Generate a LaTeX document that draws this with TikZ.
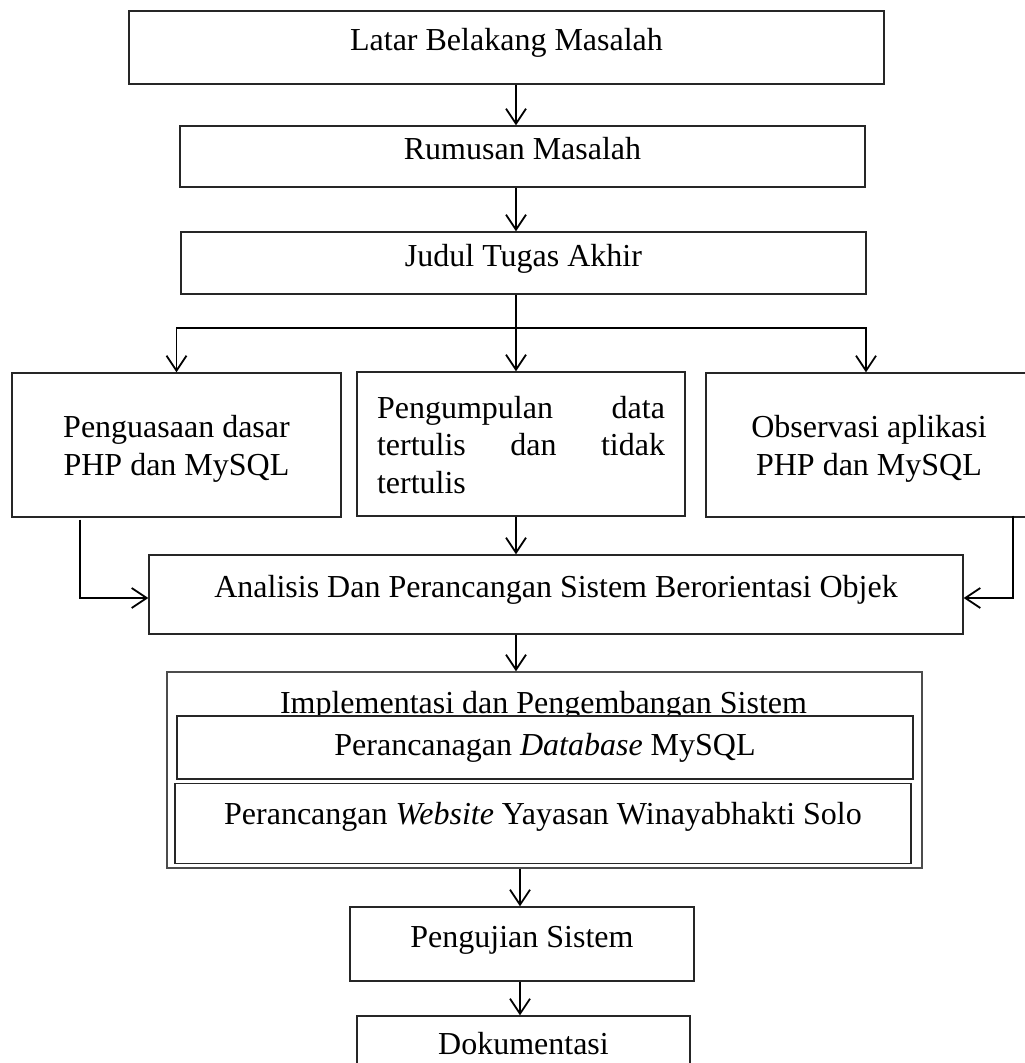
\documentclass[tikz,border=0pt]{standalone}
\usepackage{fontspec}
\setmainfont{Liberation Serif}
\usetikzlibrary{calc,arrows.meta}
\def\drawflow{\draw[line width=1.8pt,-{Straight Barb[length=15pt,width=20pt,line width=1.8pt]}]}
\def\stepnode{\node[draw=black!85,line width=1.3pt,fill=white,inner sep=0pt,align=center,font=\fontsize{32}{37.5}\selectfont]}
\tikzset{
  oneline/.style={text height=22pt,text depth=16pt},
  twolines/.style={text height=67.5pt,text depth=7pt}, % height counts both lines
  parlines/.style={text height=30pt,text depth=82pt} % with a text width the depth counts the lines below
}

\begin{document}
\begin{tikzpicture}[x=1pt,y=-1pt]
\useasboundingbox (0,0) rectangle (1025,1063);
\clip (0,0) rectangle (1025,1063);
\coordinate (spine) at (516,0); % the vertical axis of the upper arrows
\coordinate (lowspine) at (520,0); % the vertical axis of the lower arrows

% -------- top chain ---------
\stepnode[oneline,minimum width=755pt,minimum height=73pt] (latar) at (506.5,47.5) {Latar Belakang Masalah};
\stepnode[oneline,minimum width=685pt,minimum height=61pt] (rumusan) at (522.5,156.5) {Rumusan Masalah};
\stepnode[oneline,minimum width=685pt,minimum height=62pt] (judul) at (523.5,263) {Judul Tugas Akhir};
\drawflow (latar.south -| spine) to (rumusan.north -| spine);
\drawflow (rumusan.south -| spine) to (judul.north -| spine);

% -------- three branches ---------
\stepnode[twolines,minimum width=329pt,minimum height=144pt] (penguasaan) at (176.5,445) {Penguasaan dasar\\PHP dan MySQL};
\stepnode[parlines,minimum width=328pt,minimum height=144pt,text width=288pt,align=left] (pengumpulan) at (521,444)
  {\makebox[288pt]{Pengumpulan\hfill data}\\\makebox[288pt]{tertulis\hfill dan\hfill tidak}\\tertulis};
\stepnode[twolines,minimum width=326pt,minimum height=144pt] (observasi) at (869,445) {Observasi aplikasi\\PHP dan MySQL};
\coordinate (branch) at ($ (judul.south -| spine) + (0,33) $); % where the three branches split
\drawflow (judul.south -| spine) to (pengumpulan.north -| spine);
\drawflow (branch) -| (penguasaan.north);
\drawflow (branch) -| ($ (observasi.north) + (-3,0) $);

% -------- analysis ---------
\stepnode[oneline,minimum width=814pt,minimum height=79pt] (analisis) at (556,594.5) {Analisis Dan Perancangan Sistem Berorientasi Objek};
\coordinate (leftrail) at ($ (penguasaan.south) + (-96.5,2) $);
\coordinate (rightrail) at ($ (observasi.south) + (144,-2) $);
\drawflow (pengumpulan.south -| spine) to (analisis.north -| spine);
\drawflow (leftrail) |- ($ (analisis.west) + (0,3.5) $);
\drawflow (rightrail) |- ($ (analisis.east) + (0,3.5) $);

% -------- implementation block ---------
% the title sits low, so the inner boxes (filled white) cut off its descenders
\stepnode[draw=black!70,minimum width=755pt,minimum height=196pt] (implementasi) at (544.5,770) {};
\node[font=\fontsize{32}{37.5}\selectfont,inner sep=0pt] (impltitle) at (543.5,705.5) {Implementasi dan Pengembangan Sistem};
\stepnode[minimum width=736pt,minimum height=63pt] (database) at (545,747.5) {Perancanagan \textit{Database} MySQL};
\stepnode[oneline,text depth=19.5pt,minimum width=736pt,minimum height=80pt] (website) at (543,823.5) {Perancangan \textit{Website} Yayasan Winayabhakti Solo};
\drawflow (analisis.south -| spine) to (implementasi.north -| spine);

% -------- bottom chain ---------
\stepnode[oneline,minimum width=344pt,minimum height=74pt] (pengujian) at (522,944) {Pengujian Sistem};
\stepnode[oneline,text depth=19.5pt,minimum width=333pt,minimum height=75pt] (dokumentasi) at (523.5,1053.5) {Dokumentasi};
\drawflow (implementasi.south -| lowspine) to (pengujian.north -| lowspine);
\drawflow (pengujian.south -| lowspine) to (dokumentasi.north -| lowspine);
\end{tikzpicture}
\end{document}
